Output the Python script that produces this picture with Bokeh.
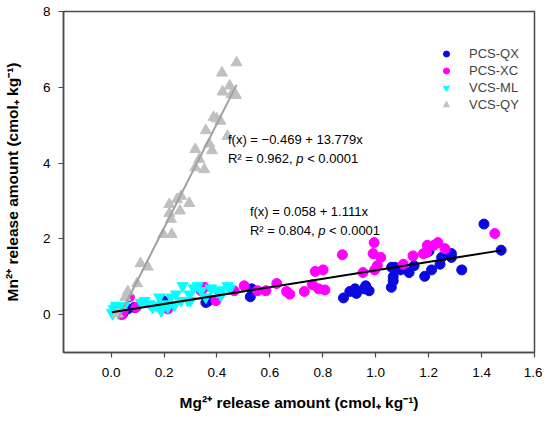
from bokeh.plotting import figure
from bokeh.models import FixedTicker, PrintfTickFormatter, Legend, LegendItem, Label
from bokeh.embed import file_html
from bokeh.resources import INLINE

# ---- data ----
qx_x = [0.044, 0.063, 0.088, 0.195, 0.199, 0.358, 0.365, 0.526, 0.531, 0.878, 0.902, 0.922,
        0.927, 0.956, 0.962, 0.975, 1.059, 1.066, 1.066, 1.060, 1.072, 1.094, 1.126, 1.145,
        1.185, 1.201, 1.211, 1.243, 1.249, 1.286, 1.286, 1.325, 1.409, 1.474]
qx_y = [0.02, 0.15, 0.19, 0.37, 0.28, 0.32, 0.35, 0.47, 0.68, 0.44, 0.61, 0.68,
        0.56, 0.68, 0.76, 0.63, 0.72, 0.89, 1.00, 1.25, 1.25, 1.18, 1.11, 1.29,
        1.01, 1.67, 1.18, 1.33, 1.51, 1.51, 1.61, 1.18, 2.39, 1.70]

xc_x = [0.040, 0.046, 0.069, 0.094, 0.214, 0.340, 0.352, 0.396, 0.465, 0.503, 0.553, 0.585,
        0.626, 0.663, 0.675, 0.730, 0.761, 0.771, 0.784, 0.801, 0.808, 0.874, 0.952, 0.990,
        0.994, 0.996, 1.006, 1.019, 1.104, 1.141, 1.180, 1.192, 1.195, 1.220, 1.235, 1.262, 1.450]
xc_y = [0.00, 0.10, 0.46, 0.19, 0.15, 0.63, 0.72, 0.37, 0.63, 0.76, 0.63, 0.63,
        0.82, 0.61, 0.54, 0.61, 0.79, 1.14, 0.68, 1.18, 0.65, 1.58, 1.11, 1.61,
        1.90, 1.18, 1.29, 1.51, 1.33, 1.55, 1.61, 1.64, 1.83, 1.83, 1.90, 1.74, 2.14]

ml_x = [0.003, 0.006, 0.010, 0.019, 0.019, 0.030, 0.050, 0.113, 0.126, 0.145, 0.157, 0.170,
        0.182, 0.189, 0.195, 0.214, 0.226, 0.239, 0.245, 0.264, 0.270, 0.290, 0.296, 0.300,
        0.312, 0.327, 0.340, 0.358, 0.377, 0.377, 0.400, 0.415, 0.415, 0.440, 0.450]
ml_y = [0.06, 0.02, 0.15, 0.24, 0.19, 0.10, 0.24, 0.32, 0.37, 0.28, 0.19, 0.24,
        0.46, 0.10, 0.28, 0.19, 0.46, 0.24, 0.54, 0.37, 0.76, 0.37, 0.54, 0.37,
        0.70, 0.76, 0.63, 0.46, 0.68, 0.70, 0.61, 0.50, 0.65, 0.76, 0.70]

qy_x = [0.025, 0.054, 0.063, 0.098, 0.111, 0.138, 0.197, 0.229, 0.226, 0.220, 0.260, 0.220,
        0.295, 0.249, 0.264, 0.318, 0.352, 0.333, 0.318, 0.381, 0.371, 0.440, 0.358, 0.387,
        0.399, 0.413, 0.421, 0.455, 0.472, 0.448, 0.419, 0.474]
qy_y = [0.02, 0.46, 0.61, 0.82, 1.35, 1.26, 2.12, 2.12, 2.52, 2.67, 2.74, 2.91,
        2.94, 3.04, 3.13, 3.88, 3.83, 4.10, 4.36, 4.33, 4.51, 4.71, 4.86, 5.21,
        5.17, 5.11, 5.88, 5.81, 5.79, 6.04, 6.38, 6.65]

# regression coefficients shown on the chart
fit_qy = (-0.469, 13.779)
fit_all = (0.058, 1.111)

x_ticks = [0.0, 0.2, 0.4, 0.6, 0.8, 1.0, 1.2, 1.4, 1.6]
y_ticks = [0, 2, 4, 6, 8]

FONT = "Liberation Sans"
AX = "#4a4a4a"

p = figure(width=542, height=413, x_range=(-0.18, 1.6), y_range=(-1, 8),
           output_backend="svg", toolbar_location=None,
           min_border_left=62, min_border_right=8, min_border_top=11, min_border_bottom=61)

p.xgrid.visible = False
p.ygrid.visible = False
p.outline_line_color = AX
p.outline_line_width = 1.5

for ax in (p.xaxis[0], p.yaxis[0]):
    ax.axis_line_color = AX
    ax.axis_line_width = 1.5
    ax.major_tick_line_color = AX
    ax.major_tick_line_width = 1.2
    ax.major_tick_out = 5
    ax.major_tick_in = 0
    ax.minor_tick_line_color = None
    ax.major_label_text_font = FONT
    ax.major_label_text_font_size = "13.5px"
    ax.major_label_text_color = "black"
    ax.axis_label_text_font = FONT
    ax.axis_label_text_font_size = "15.5px"
    ax.axis_label_text_font_style = "bold"
    ax.axis_label_text_color = "black"

p.xaxis.ticker = FixedTicker(ticks=x_ticks)
p.xaxis.formatter = PrintfTickFormatter(format="%.1f")
p.yaxis.ticker = FixedTicker(ticks=y_ticks)
p.xaxis.major_label_standoff = 10
p.yaxis.major_label_standoff = 8
p.xaxis.axis_label_standoff = 14
p.yaxis.axis_label_standoff = 19
p.xaxis.axis_label = "Mg²⁺ release amount (cmol₊ kg⁻¹)"
p.yaxis.axis_label = "Mn²⁺ release amount (cmol₊ kg⁻¹)"

r_qx = p.scatter(qx_x, qx_y, marker="circle", size=10, fill_color="#0A0AE0", line_color="#0A0AE0")
r_xc = p.scatter(xc_x, xc_y, marker="circle", size=10, fill_color="#FF00FF", line_color="#FF00FF")
r_ml = p.scatter(ml_x, ml_y, marker="inverted_triangle", size=11, fill_color="#00FFFF", line_color="#00FFFF")
r_qy = p.scatter(qy_x, qy_y, marker="triangle", size=11, fill_color="#C0C0C0", line_color="#C0C0C0")

# regression lines over the range of their data
gx = [min(qy_x), max(qy_x)]
p.line(gx, [fit_qy[0] + fit_qy[1] * v for v in gx], line_color="#A0A0A0", line_width=2)
all_x = qx_x + xc_x + ml_x
bx = [min(all_x), max(all_x)]
p.line(bx, [fit_all[0] + fit_all[1] * v for v in bx], line_color="black", line_width=2)

legend = Legend(items=[LegendItem(label="PCS-QX", renderers=[r_qx]),
                       LegendItem(label="PCS-XC", renderers=[r_xc]),
                       LegendItem(label="VCS-ML", renderers=[r_ml]),
                       LegendItem(label="VCS-QY", renderers=[r_qy])],
                location=(375, 240), padding=0, margin=0, spacing=2,
                glyph_width=16, glyph_height=15, label_height=15, label_standoff=15,
                label_text_font=FONT, label_text_font_size="13px",
                background_fill_alpha=0, border_line_color=None)
p.add_layout(legend)

def annot(x, y, l1, r2, p_str):
    kw = dict(text_font=FONT, text_font_size="13px", text_baseline="alphabetic", text_color="black")
    p.add_layout(Label(x=x, y=y[0], text=l1, **kw))
    p.add_layout(Label(x=x, y=y[1], text=r2, **kw))
    p.add_layout(Label(x=x, y=y[1], x_offset=68.3, text="p", text_font_style="italic", **kw))
    p.add_layout(Label(x=x, y=y[1], x_offset=79.2, text=p_str, **kw))

annot(0.4415, (4.63, 4.13), "f(x) = −0.469 + 13.779x", "R² = 0.962,", "< 0.0001")
annot(0.5245, (2.71, 2.22), "f(x) = 0.058 + 1.111x", "R² = 0.804,", "< 0.0001")

open("out.html", "w").write(file_html(p, INLINE))
